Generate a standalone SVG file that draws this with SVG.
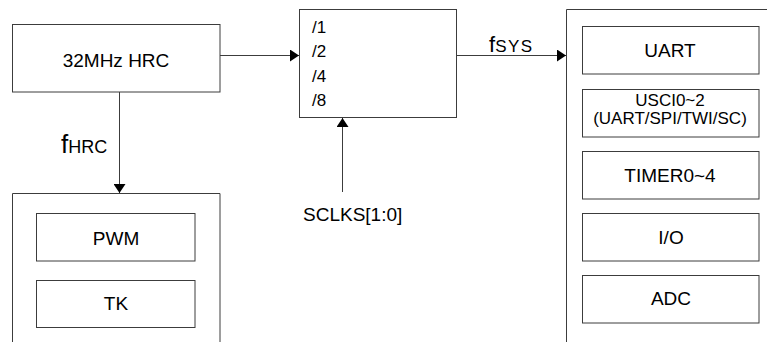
<svg xmlns="http://www.w3.org/2000/svg" width="767" height="342" viewBox="0 0 767 342">
<style>
.box{fill:none;stroke:#3c3c3c;stroke-width:1}
.ln{fill:none;stroke:#3c3c3c;stroke-width:1}
text{font-family:"Liberation Sans",Arial,sans-serif;fill:#000}
.t{font-size:19px;text-anchor:middle}
.d{font-size:17px}
</style>
<defs>
<marker id="ah" markerUnits="userSpaceOnUse" markerWidth="10" markerHeight="12" refX="9" refY="6" orient="auto" viewBox="0 0 10 12">
<path d="M0,0 L9,6 L0,12 z" fill="#000"/>
</marker>
</defs>
<rect width="767" height="342" fill="#fff"/>
<g id="hrc">
<rect class="box" x="12.5" y="24.5" width="207.5" height="67.5"/>
<text class="t" x="116" y="67">32MHz HRC</text>
</g>
<g id="divider">
<rect class="box" x="299.5" y="9.5" width="157" height="108"/>
<text class="d" x="312" y="33">/1</text>
<text class="d" x="312" y="57">/2</text>
<text class="d" x="312" y="82">/4</text>
<text class="d" x="312" y="106">/8</text>
</g>
<g id="peripherals">
<path class="box" d="M566.5,342 V9.5 H767"/>
<g id="uart"><rect class="box" x="582.5" y="26.5" width="176.5" height="47.5"/><text class="t" x="670" y="57">UART</text></g>
<g id="usci"><rect class="box" x="582.5" y="89.5" width="176.5" height="47.5"/><text class="t" x="670" y="106" style="font-size:17px">USCI0~2</text><text class="t" x="670" y="124" style="font-size:17px">(UART/SPI/TWI/SC)</text></g>
<g id="timer"><rect class="box" x="582.5" y="151.5" width="176.5" height="47.5"/><text class="t" x="670" y="182">TIMER0~4</text></g>
<g id="io"><rect class="box" x="582.5" y="213.5" width="176.5" height="47.5"/><text class="t" x="671" y="244">I/O</text></g>
<g id="adc"><rect class="box" x="582.5" y="275.5" width="176.5" height="47.5"/><text class="t" x="671" y="305">ADC</text></g>
</g>
<g id="hrcblock">
<path class="box" d="M12.5,342 V193.5 H220 V342"/>
<g id="pwm"><rect class="box" x="36.5" y="213.5" width="158.5" height="47.5"/><text class="t" x="116" y="245">PWM</text></g>
<g id="tk"><rect class="box" x="36.5" y="280.5" width="158.5" height="47"/><text class="t" x="116" y="310">TK</text></g>
</g>
<g id="connectors">
<line class="ln" x1="220" y1="55.5" x2="299" y2="55.5" marker-end="url(#ah)"/>
<line class="ln" x1="457" y1="55.5" x2="566" y2="55.5" marker-end="url(#ah)"/>
<line class="ln" x1="119.5" y1="92" x2="119.5" y2="193" marker-end="url(#ah)"/>
<line class="ln" x1="342.5" y1="192" x2="342.5" y2="118" marker-end="url(#ah)"/>
</g>
<g id="labels">
<text x="489" y="52"><tspan style="font-size:22px">f</tspan><tspan style="font-size:17px;letter-spacing:1.5px">SYS</tspan></text>
<text x="61" y="153"><tspan style="font-size:26px">f</tspan><tspan style="font-size:18px">HRC</tspan></text>
<text x="303" y="221" style="font-size:19px">SCLKS[1:0]</text>
</g>
</svg>
